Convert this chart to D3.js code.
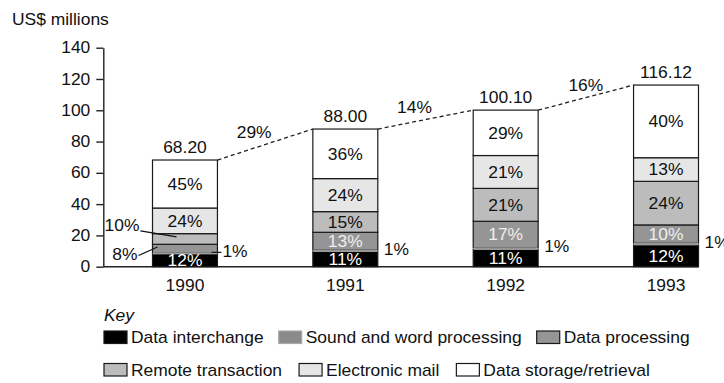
<!DOCTYPE html>
<html>
<head>
<meta charset="utf-8">
<script src="https://cdn.jsdelivr.net/npm/d3@7/dist/d3.min.js"></script>
<style>
  html, body { margin: 0; padding: 0; background: #fff; }
  svg { display: block; }
  text { font-family: "Liberation Sans", Arial, Helvetica, sans-serif; font-size: 16px; }
</style>
</head>
<body>
<svg id="chart" width="724" height="383" fill="#111"></svg>
<script>
// Market value by year (US$ millions) and each application's share (%)
const years = ["1990", "1991", "1992", "1993"];
const totals = [68.20, 88.00, 100.10, 116.12];
const totalLabels = ["68.20", "88.00", "100.10", "116.12"];
const growthLabels = ["29%", "14%", "16%"];

const categories = [
  "Data interchange",
  "Sound and word processing",
  "Data processing",
  "Remote transaction",
  "Electronic mail",
  "Data storage/retrieval"
];
const shareDataInterchange   = [12, 11, 11, 12];
const shareSoundWord         = [1, 1, 1, 1];
const shareDataProcessing    = [8, 13, 17, 10];
const shareRemoteTransaction = [10, 15, 21, 24];
const shareElectronicMail    = [24, 24, 21, 13];
const shareDataStorage       = [45, 36, 29, 40];
const shares = [shareDataInterchange, shareSoundWord, shareDataProcessing,
                shareRemoteTransaction, shareElectronicMail, shareDataStorage];

const yTicks = [0, 20, 40, 60, 80, 100, 120, 140];

// Greyscale fills, bottom of the stack first
const fills     = ["#000000", "#8a8a8a", "#959595", "#bcbcbc", "#e6e6e6", "#ffffff"];
const strokes   = ["#1a1a1a", "#ababab", "#1a1a1a", "#1a1a1a", "#1a1a1a", "#1a1a1a"];
const labelFill = ["#ffffff", "#111111", "#eeeeee", "#111111", "#111111", "#111111"];
const WIDE = 1.09;

const svg = d3.select("#chart");

// Slightly widened lettering, anchored on the side the text is aligned to
function widen(sel, origin) {
  return sel.style("transform-box", "fill-box")
            .style("transform-origin", (origin || "center") + " center")
            .style("transform", `scaleX(${WIDE})`);
}

const x = d3.scaleBand().domain(years).range([152.5, 698.5])
  .paddingInner(0.595).paddingOuter(0);
const y = d3.scaleLinear().domain([0, 140]).range([266.7, 47.7]);
const bw = x.bandwidth();

// Stack each year's total by share
const segments = years.flatMap((yr, i) => {
  let acc = 0;
  return categories.map((c, k) => {
    const v = totals[i] * shares[k][i] / 100;
    const seg = { year: yr, yi: i, cat: k, share: shares[k][i], y0: acc, y1: acc + v };
    acc += v;
    return seg;
  });
});

// Units caption
widen(svg.append("text").attr("x", 12).attr("y", 25).text("US$ millions"), "left");

// Y axis
const yAxis = svg.append("g").attr("transform", "translate(103.3,0)")
  .call(d3.axisLeft(y).tickValues(yTicks).tickSize(7).tickSizeOuter(0).tickPadding(6)
        .tickFormat(d3.format("d")));
yAxis.attr("font-size", null).attr("font-family", null);
yAxis.select(".domain").attr("stroke", "#222").attr("stroke-width", 1.4);
yAxis.selectAll(".tick line").attr("stroke", "#222").attr("stroke-width", 1.4);
yAxis.selectAll(".tick text").attr("fill", "#111");
widen(yAxis.selectAll(".tick text"), "right");

// Baseline
svg.append("line").attr("x1", 103.3).attr("x2", x.range()[1])
  .attr("y1", y(0)).attr("y2", y(0)).attr("stroke", "#222").attr("stroke-width", 1.4);

// Year labels
svg.append("g").selectAll("text").data(years).join("text")
  .attr("x", d => x(d) + bw / 2).attr("y", 291).attr("text-anchor", "middle")
  .text(d => d).call(widen);

// Stacked segments (thin sound/word slice drawn last with its own light edge)
const bars = svg.append("g");
bars.selectAll("rect.seg").data(segments.filter(s => s.cat !== 1)).join("rect")
  .attr("class", "seg")
  .attr("x", d => x(d.year)).attr("width", bw)
  .attr("y", d => y(d.y1)).attr("height", d => y(d.y0) - y(d.y1))
  .attr("fill", d => fills[d.cat]).attr("stroke", d => strokes[d.cat]).attr("stroke-width", 1.2);
bars.selectAll("rect.thin").data(segments.filter(s => s.cat === 1)).join("rect")
  .attr("class", "thin")
  .attr("x", d => x(d.year) + 0.8).attr("width", bw - 1.6)
  .attr("y", d => y(d.y1)).attr("height", d => y(d.y0) - y(d.y1))
  .attr("fill", fills[1]).attr("stroke", strokes[1]).attr("stroke-width", 0.8);

// Shares printed inside segments tall enough to hold them
const inside = segments.filter(s => s.cat !== 1 && (y(s.y0) - y(s.y1)) >= 12);
svg.append("g").selectAll("text").data(inside).join("text")
  .attr("x", d => x(d.year) + bw / 2)
  .attr("y", d => (y(d.y0) + y(d.y1)) / 2)
  .attr("dy", "0.36em").attr("text-anchor", "middle")
  .attr("fill", d => labelFill[d.cat])
  .text(d => d.share + "%").call(widen);

// Short segments are called out to the left with leader lines
const callouts = svg.append("g");
segments.filter(s => s.cat !== 1 && (y(s.y0) - y(s.y1)) < 12).forEach(s => {
  const left = x(s.year);
  const cy = (y(s.y0) + y(s.y1)) / 2;
  const above = s.cat >= 3;
  const tx = above ? left - 13 : left - 15;
  const ty = above ? cy - 8 : cy + 11;
  const lx1 = above ? left - 12 : left - 14;
  const ly1 = above ? cy - 8 : cy + 7;
  const lx2 = above ? left + 24 : left + 5;
  const ly2 = above ? cy - 2 : cy - 1.6;
  callouts.append("line").attr("x1", lx1).attr("y1", ly1).attr("x2", lx2).attr("y2", ly2)
    .attr("stroke", "#111").attr("stroke-width", 1.2);
  widen(callouts.append("text").attr("x", tx).attr("y", ty).attr("text-anchor", "end")
    .text(s.share + "%"), "right");
});

// Sound and word processing shares sit to the right of each bar
const thin = svg.append("g");
segments.filter(s => s.cat === 1).forEach(s => {
  const right = x(s.year) + bw;
  const cy = (y(s.y0) + y(s.y1)) / 2;
  const lead = s.yi === 0;
  if (lead) {
    thin.append("line").attr("x1", right - 6).attr("x2", right + 4)
      .attr("y1", cy - 1).attr("y2", cy - 1).attr("stroke", "#111").attr("stroke-width", 1.2);
  }
  widen(thin.append("text").attr("x", right + (lead ? 5 : 6)).attr("y", cy - 2)
    .attr("dy", "0.36em").text(s.share + "%"), "left");
});

// Totals above bars
svg.append("g").selectAll("text").data(years).join("text")
  .attr("x", d => x(d) + bw / 2).attr("y", (d, i) => y(totals[i]) - 7)
  .attr("text-anchor", "middle").text((d, i) => totalLabels[i]).call(widen);

// Dashed growth links between bar tops
const growthNudge = [-11, -11, 0];
const links = svg.append("g");
growthLabels.forEach((g, i) => {
  const x1 = x(years[i]) + bw, y1 = y(totals[i]);
  const x2 = x(years[i + 1]), y2 = y(totals[i + 1]);
  links.append("line").attr("x1", x1).attr("y1", y1).attr("x2", x2).attr("y2", y2)
    .attr("stroke", "#222").attr("stroke-width", 1.3).attr("stroke-dasharray", "4,3");
  widen(links.append("text").attr("x", (x1 + x2) / 2 + growthNudge[i])
    .attr("y", (y1 + y2) / 2 - 12.5).attr("dy", "0.36em")
    .attr("text-anchor", "middle").text(g));
});

// Key
const key = svg.append("g");
widen(key.append("text").attr("x", 104).attr("y", 321).style("font-style", "italic").text("Key"), "left");
const rows = [[0, 1, 2], [3, 4, 5]];
const rowTop = [331, 363.5];
const rowGap = [15, 17];
const sw = 23, sh = 12.5;
rows.forEach((row, r) => {
  let cx = 104;
  row.forEach(k => {
    key.append("rect").attr("x", cx).attr("y", rowTop[r]).attr("width", sw).attr("height", sh)
      .attr("fill", fills[k]).attr("stroke", strokes[k]).attr("stroke-width", 1.2);
    const t = key.append("text").attr("x", cx + sw + 4).attr("y", rowTop[r] + sh)
      .text(categories[k]);
    widen(t, "left");
    cx += sw + 4 + t.node().getComputedTextLength() * WIDE + rowGap[r];
  });
});
</script>
</body>
</html>
